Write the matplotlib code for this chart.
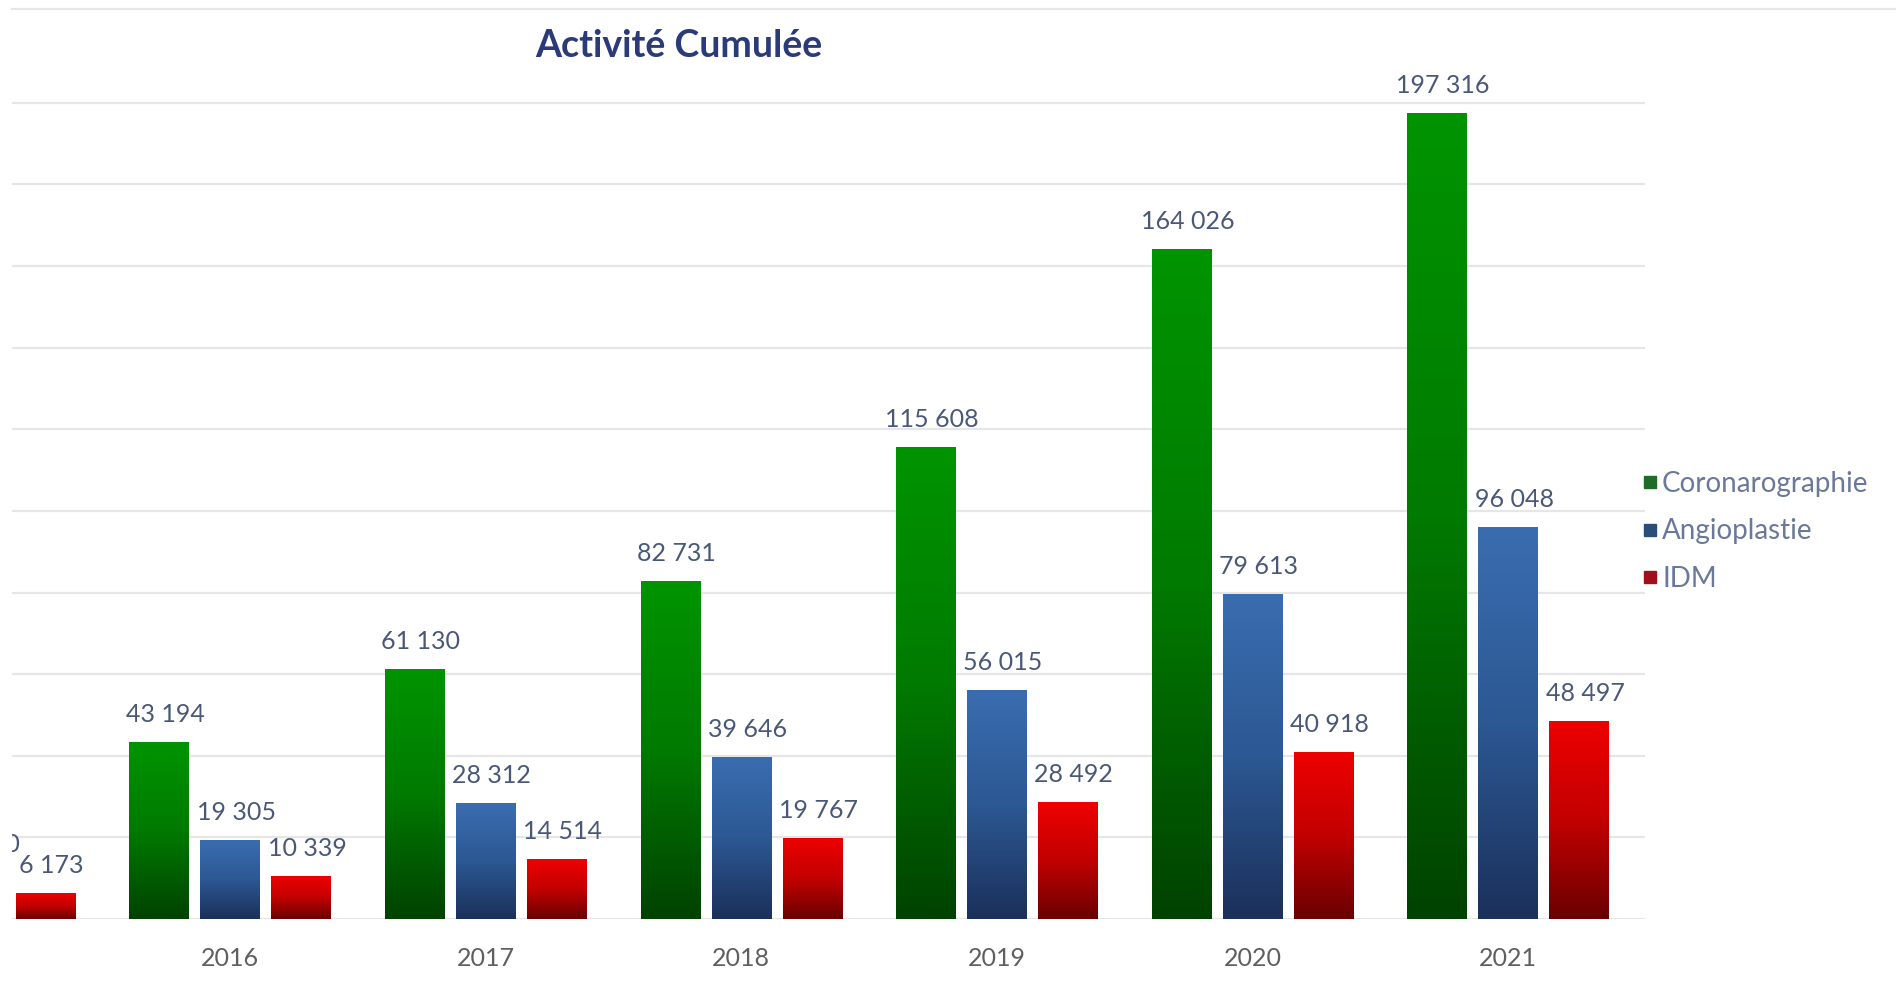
import numpy as np
import matplotlib
matplotlib.use("Agg")
import matplotlib.pyplot as plt
from matplotlib.colors import LinearSegmentedColormap
from matplotlib.lines import Line2D

plt.rcParams['font.family'] = ['Lato', 'DejaVu Sans']

# Données cumulées par année (2015 est en partie hors du cadre)
years = ['2015', '2016', '2017', '2018', '2019', '2020', '2021']
coronarographie = [np.nan, 43194, 61130, 82731, 115608, 164026, 197316]
angioplastie = [11400, 19305, 28312, 39646, 56015, 79613, 96048]
idm = [6173, 10339, 14514, 19767, 28492, 40918, 48497]

series_names = ['Coronarographie', 'Angioplastie', 'IDM']
series_values = [coronarographie, angioplastie, idm]

# dégradés : bas sombre -> haut vif
gradients = [
    ['#004200', '#007a00', '#009400'],
    ['#1b305a', '#2c5893', '#3a6db0'],
    ['#6a0000', '#c20000', '#ee0000'],
]
legend_colors = ['#1f6b2a', '#2c4d7a', '#a0101c']

label_color = '#4a5878'
tick_color = '#5f5f5f'
title_color = '#2b3a78'
grid_color = '#e6e6e6'

fig = plt.figure(figsize=(18.96, 9.84), dpi=100)
ax = fig.add_axes([12 / 1896, 1 - 919 / 984, (1645 - 12) / 1896, (919 - 9) / 984])

x = np.arange(len(years))
width = 0.232
offset = 0.278

for k, (name, vals) in enumerate(zip(series_names, series_values)):
    pos = x + (k - 1) * offset
    bars = ax.bar(pos, vals, width, color='none', edgecolor='none', zorder=2)
    cmap = LinearSegmentedColormap.from_list(name, gradients[k])
    grad = np.linspace(0, 1, 256).reshape(-1, 1)
    for b, v in zip(bars, vals):
        if np.isnan(v):
            continue
        x0, y0 = b.get_x(), b.get_y()
        im = ax.imshow(grad, cmap=cmap, origin='lower', aspect='auto',
                       extent=(x0, x0 + b.get_width(), y0, y0 + b.get_height()),
                       zorder=2, interpolation='bilinear')
        im.set_clip_path(b)
        im.set_clip_box(ax.bbox)
        ax.annotate(f"{int(v):,}".replace(',', ' '), (b.get_x() + b.get_width() / 2, v),
                    xytext=(6, 28), textcoords='offset pixels', ha='center', va='center',
                    fontsize=18, color=label_color, annotation_clip=False, clip_on=True)

ax.set_xlim(0.147, 6.536)
ax.set_ylim(0, 223000)
ax.set_yticks(np.arange(0, 200001, 20000))
ax.yaxis.grid(True, color=grid_color, linewidth=1.6, zorder=0)
ax.set_axisbelow(True)
ax.tick_params(axis='y', left=False, labelleft=False)
ax.set_xticks(x[1:])
ax.set_xticklabels(years[1:])
ax.tick_params(axis='x', bottom=False, pad=17, labelsize=18, labelcolor=tick_color)
for s in ax.spines.values():
    s.set_visible(False)

# filet supérieur sur toute la largeur
fig.add_artist(Line2D([12 / 1896, 1], [1 - 9 / 984] * 2, color=grid_color, linewidth=1.6))

fig.text(0.358, 0.953, 'Activité Cumulée', ha='center', va='center',
         fontsize=27, fontweight='bold', color=title_color)

handles = [Line2D([], [], marker='s', linestyle='none', markersize=9,
                  markerfacecolor=c, markeredgecolor=c) for c in legend_colors]
fig.legend(handles, series_names, loc='center left', bbox_to_anchor=(0.851, 0.46),
           frameon=False, fontsize=20, labelcolor='#6a7899', handletextpad=0.05,
           labelspacing=0.78, handlelength=0.8)

fig.savefig('out.png', dpi=100, facecolor='white')
